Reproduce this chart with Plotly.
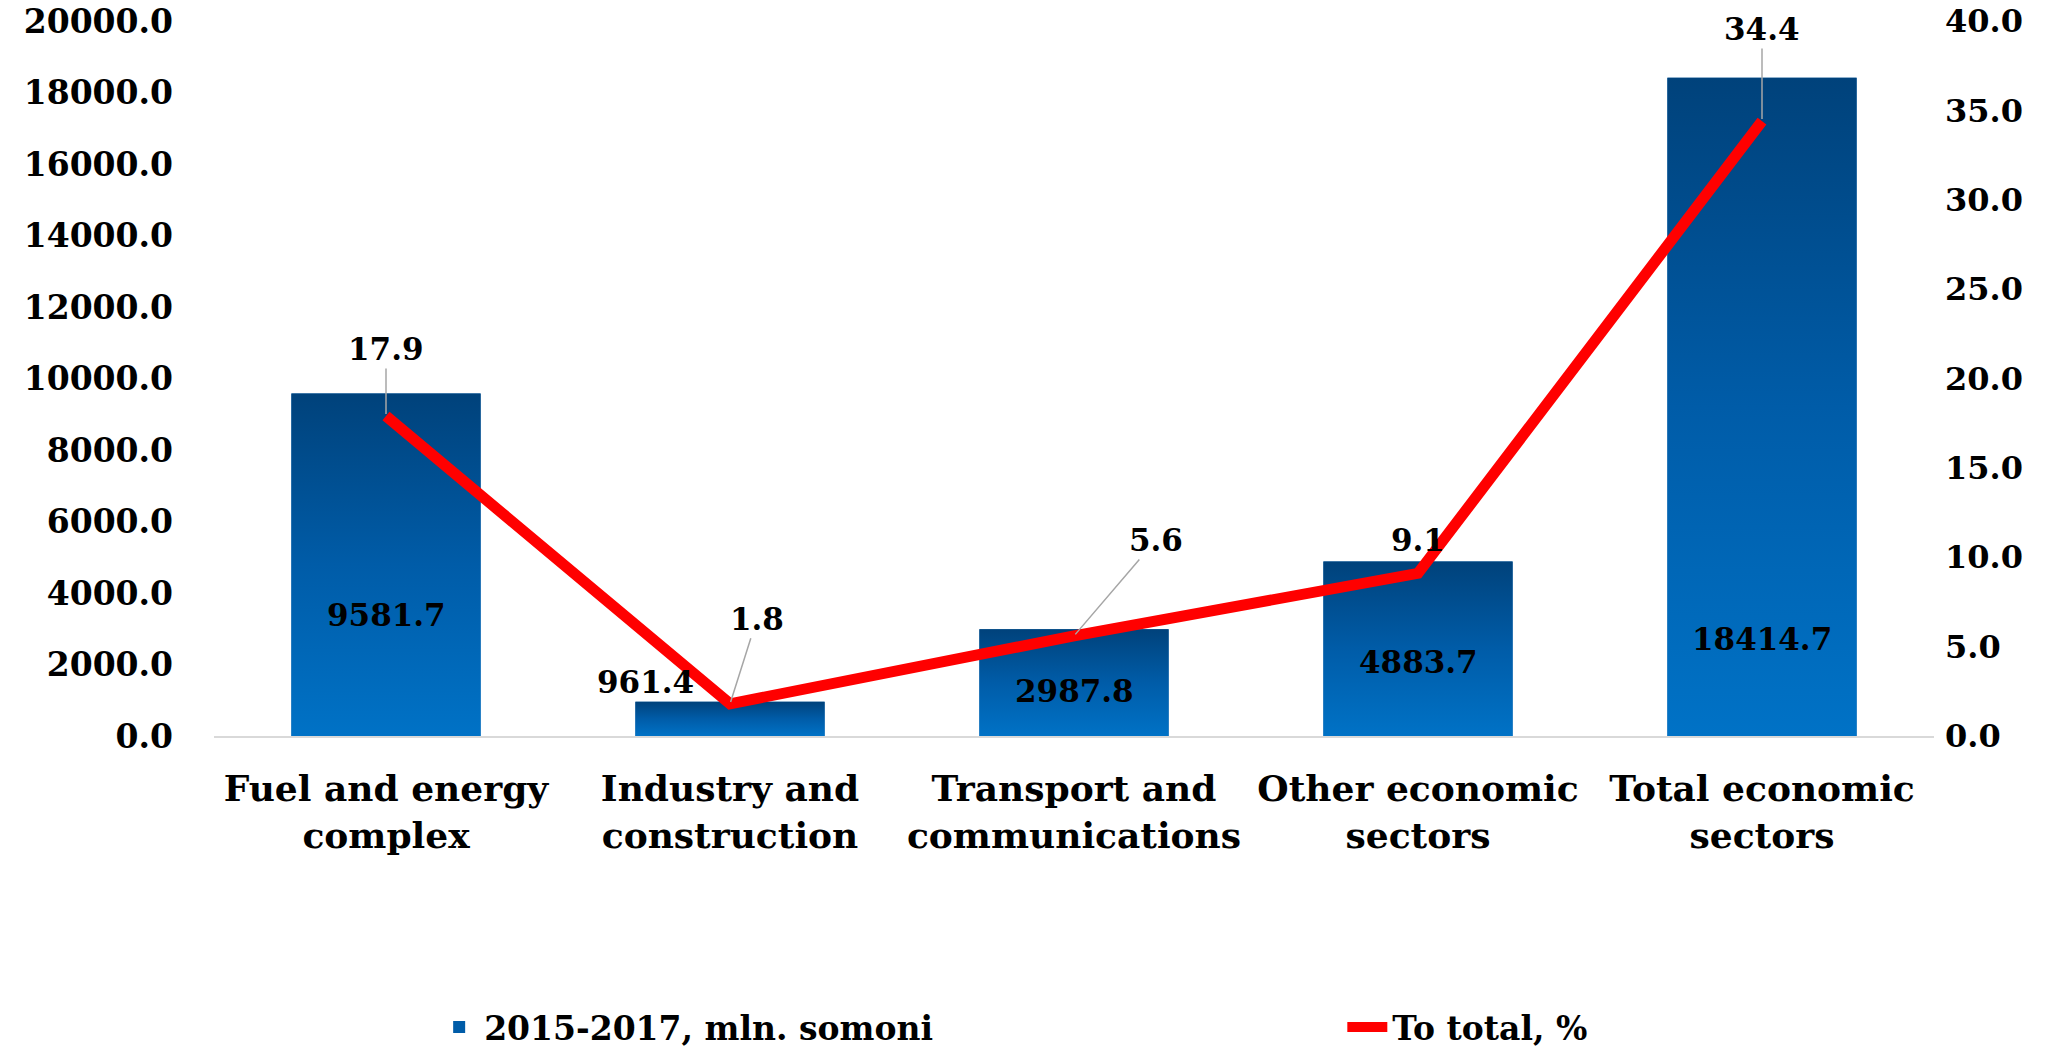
import plotly.graph_objects as go

categories = ["Fuel and energy<br>complex", "Industry and<br>construction",
              "Transport and<br>communications", "Other economic<br>sectors",
              "Total economic<br>sectors"]
amounts = [9581.7, 961.4, 2987.8, 4883.7, 18414.7]
shares = [17.9, 1.8, 5.6, 9.1, 34.4]
left_ticks = [0, 2000, 4000, 6000, 8000, 10000, 12000, 14000, 16000, 18000, 20000]
right_ticks = [0, 5, 10, 15, 20, 25, 30, 35, 40]

FONT = "DejaVu Serif"
bar_half = 0.275
blues = [[0, "#0072C6"], [0.5, "#005CA8"], [1, "#00427B"]]

# label offsets (px) copied from the reference layout
bar_label_shift = [(0, 121), (-85, 54), (0, 45), (0, 74), (0, 97)]
share_label_shift = [(0, -67), (27, -85), (82, -96), (0, -33), (0, -92)]

fig = go.Figure()

# solid bars carry the legend entry, gradient polygons are painted over them
fig.add_trace(go.Bar(
    x=list(range(len(amounts))),
    y=amounts,
    width=2 * bar_half,
    marker={"color": "#005CA8", "line": {"width": 0}},
    name="2015-2017, mln. somoni",
    legend="legend",
    hoverinfo="skip",
))

for i, v in enumerate(amounts):
    fig.add_trace(go.Scatter(
        x=[i - bar_half, i + bar_half, i + bar_half, i - bar_half, i - bar_half],
        y=[0, 0, v, v, 0],
        mode="none",
        fill="toself",
        fillgradient={"type": "vertical", "colorscale": blues},
        showlegend=False,
        hoverinfo="skip",
    ))

fig.add_trace(go.Scatter(
    x=list(range(len(shares))),
    y=shares,
    yaxis="y2",
    mode="lines",
    name="To total, %",
    legend="legend2",
    line={"color": "#FF0000", "width": 11},
))

for i, v in enumerate(amounts):
    dx, dy = bar_label_shift[i]
    fig.add_annotation(
        x=i, y=0, yref="y", text=f"{v:.1f}", showarrow=False,
        xshift=dx, yshift=dy,
        font={"family": FONT, "size": 31, "color": "black", "weight": "bold"},
    )

for i, v in enumerate(shares):
    dx, dy = share_label_shift[i]
    fig.add_annotation(
        x=i, y=v, yref="y2", text=f"{v:.1f}",
        showarrow=(i != 3), arrowhead=0, arrowwidth=1.5, arrowcolor="#A6A6A6",
        ax=dx, ay=dy, standoff=2,
        xshift=0 if i != 3 else dx, yshift=0 if i != 3 else -dy,
        font={"family": FONT, "size": 31, "color": "black", "weight": "bold"},
    )

legend_style = {
    "orientation": "h", "xref": "paper", "xanchor": "left",
    "y": -0.407, "yanchor": "middle",
    "font": {"family": FONT, "size": 33, "weight": "bold", "color": "black"},
    "itemwidth": 40, "bgcolor": "rgba(0,0,0,0)",
}

fig.update_layout(
    width=2065, height=1054,
    paper_bgcolor="white", plot_bgcolor="white",
    margin={"l": 214, "r": 131, "t": 21, "b": 318, "autoexpand": False},
    font={"family": FONT, "color": "black"},
    barmode="overlay",
    xaxis={
        "range": [-0.5, len(categories) - 0.5],
        "tickvals": list(range(len(categories))),
        "ticktext": categories,
        "tickfont": {"size": 36, "weight": "bold"},
        "showgrid": False, "zeroline": False,
        "showline": True, "linecolor": "#D9D9D9", "linewidth": 2,
        "ticks": "", "ticklabelstandoff": 20, "automargin": False,
    },
    yaxis={
        "range": [0, 20000],
        "tickvals": left_ticks,
        "ticktext": [f"{t:.1f}" for t in left_ticks],
        "tickfont": {"size": 33, "weight": "bold"},
        "showgrid": False, "zeroline": False,
        "ticklabelstandoff": 40, "automargin": False,
    },
    yaxis2={
        "range": [0, 40],
        "overlaying": "y", "side": "right",
        "tickvals": right_ticks,
        "ticktext": [f"{t:.1f}" for t in right_ticks],
        "tickfont": {"size": 32, "weight": "bold"},
        "showgrid": False, "zeroline": False,
        "ticklabelstandoff": 10, "automargin": False,
    },
    legend={**legend_style, "x": 0.128},
    legend2={**legend_style, "x": 0.656},
    showlegend=True,
)

fig.write_html("out.html", config={"displayModeBar": False},
               post_script="document.body.style.margin='0';")
